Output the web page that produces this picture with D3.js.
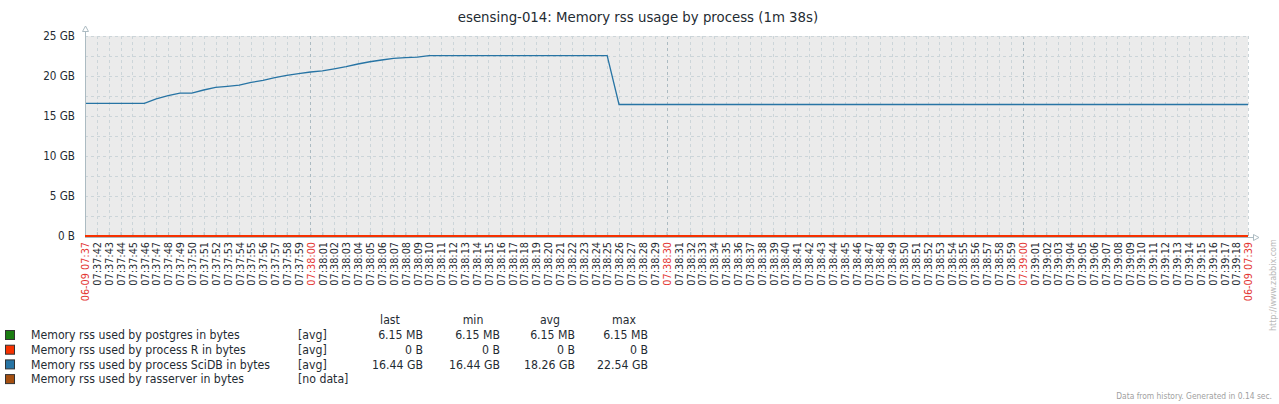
<!DOCTYPE html>
<html><head><meta charset="utf-8">
<script src="https://cdn.jsdelivr.net/npm/d3@7"></script>
<style>
body{margin:0;background:#fff;overflow:hidden;}
svg{display:block;font-family:"DejaVu Sans",sans-serif;font-stretch:condensed;}
</style></head><body>
<svg id="chart" width="1279" height="404"></svg>
<script>
const title = "esensing-014: Memory rss usage by process (1m 38s)";
const startTime = "2016-06-09T07:37:41";
const endTime = "2016-06-09T07:39:19";
// one sample per second, 07:37:41 .. 07:39:19 (GB)
const sciDbValues = [
  16.58,16.58,16.58,16.58,16.58,16.58,17.15,17.55,17.87,17.87,
  18.25,18.58,18.70,18.85,19.20,19.45,19.80,20.08,20.30,20.50,
  20.65,20.90,21.17,21.50,21.78,22.00,22.20,22.30,22.35,22.54,
  22.54,22.54,22.54,22.54,22.54,22.54,22.54,22.54,22.54,22.54,
  22.54,22.54,22.54,22.54,22.54,16.44,16.44,16.44,16.44,16.44,
  16.44,16.44,16.44,16.44,16.44,16.44,16.44,16.44,16.44,16.44,
  16.44,16.44,16.44,16.44,16.44,16.44,16.44,16.44,16.44,16.44,
  16.44,16.44,16.44,16.44,16.44,16.44,16.44,16.44,16.44,16.44,
  16.44,16.44,16.44,16.44,16.44,16.44,16.44,16.44,16.44,16.44,
  16.44,16.44,16.44,16.44,16.44,16.44,16.44,16.44,16.44
];
const postgresValues = [
  0.006,0.006,0.006,0.006,0.006,0.006,0.006,0.006,0.006,0.006,
  0.006,0.006,0.006,0.006,0.006,0.006,0.006,0.006,0.006,0.006,
  0.006,0.006,0.006,0.006,0.006,0.006,0.006,0.006,0.006,0.006,
  0.006,0.006,0.006,0.006,0.006,0.006,0.006,0.006,0.006,0.006,
  0.006,0.006,0.006,0.006,0.006,0.006,0.006,0.006,0.006,0.006,
  0.006,0.006,0.006,0.006,0.006,0.006,0.006,0.006,0.006,0.006,
  0.006,0.006,0.006,0.006,0.006,0.006,0.006,0.006,0.006,0.006,
  0.006,0.006,0.006,0.006,0.006,0.006,0.006,0.006,0.006,0.006,
  0.006,0.006,0.006,0.006,0.006,0.006,0.006,0.006,0.006,0.006,
  0.006,0.006,0.006,0.006,0.006,0.006,0.006,0.006,0.006
];
const rValues = [
  0,0,0,0,0,0,0,0,0,0, 0,0,0,0,0,0,0,0,0,0, 0,0,0,0,0,0,0,0,0,0,
  0,0,0,0,0,0,0,0,0,0, 0,0,0,0,0,0,0,0,0,0, 0,0,0,0,0,0,0,0,0,0,
  0,0,0,0,0,0,0,0,0,0, 0,0,0,0,0,0,0,0,0,0, 0,0,0,0,0,0,0,0,0,0,
  0,0,0,0,0,0,0,0,0
];
const yTickValues = [0, 5, 10, 15, 20, 25];
const yTickLabels = ["0 B", "5 GB", "10 GB", "15 GB", "20 GB", "25 GB"];
const yGridValues = [2.5, 5, 7.5, 10, 12.5, 15, 17.5, 20, 22.5, 25];
const majorTimeLabels = ["07:38:00", "07:38:30", "07:39:00"];
const edgeLabelPrefix = "06-09 ";

const seriesNames = ["Memory rss used by postgres in bytes", "Memory rss used by process R in bytes",
  "Memory rss used by process SciDB in bytes", "Memory rss used by rasserver in bytes"];
const seriesColors = ["#1a7c11", "#f63100", "#2774a4", "#a54f10"];
const seriesFuncs = ["[avg]", "[avg]", "[avg]", "[no data]"];
const lastVals = ["6.15 MB", "0 B", "16.44 GB", ""];
const minVals = ["6.15 MB", "0 B", "16.44 GB", ""];
const avgVals = ["6.15 MB", "0 B", "18.26 GB", ""];
const maxVals = ["6.15 MB", "0 B", "22.54 GB", ""];
const statHeaders = ["last", "min", "avg", "max"];
const footerText = "Data from history. Generated in 0.14 sec.";
const watermark = "http://www.zabbix.com";

const TEXT = "#1f2c33", RED = "#e33734", GRID = "#ccd5d9", MAIN = "#acbbc2";
const L = 85, R = 1248, T = 36, B = 236;
const svg = d3.select("#chart");
const parse = d3.timeParse("%Y-%m-%dT%H:%M:%S");
const t0 = parse(startTime), t1 = parse(endTime);
const times = d3.timeSecond.range(t0, d3.timeSecond.offset(t1, 1));
const x = d3.scaleTime().domain([t0, t1]).range([L, R]);
const y = d3.scaleLinear().domain([0, 25]).range([B, T]);
const fmtS = d3.timeFormat("%H:%M:%S"), fmtM = d3.timeFormat("%H:%M");

svg.append("text").attr("x", 638).attr("y", 18).attr("text-anchor", "middle")
  .attr("dominant-baseline", "middle").attr("font-size", 14.8).attr("fill", TEXT).text(title);

svg.append("rect").attr("x", L).attr("y", T).attr("width", R - L).attr("height", B - T).attr("fill", "#ebebeb");

const labelTimes = d3.timeSecond.range(d3.timeSecond.offset(t0, 1), t1);
svg.append("g").selectAll("line").data(labelTimes).join("line")
  .attr("x1", d => Math.round(x(d)) + 0.5).attr("x2", d => Math.round(x(d)) + 0.5)
  .attr("y1", T).attr("y2", B)
  .attr("stroke", d => majorTimeLabels.includes(fmtS(d)) ? MAIN : GRID)
  .attr("stroke-dasharray", "3,3");
svg.append("line").attr("x1", R + 0.5).attr("x2", R + 0.5).attr("y1", T).attr("y2", B)
  .attr("stroke", GRID).attr("stroke-dasharray", "3,3");
svg.append("g").selectAll("line").data(yGridValues).join("line")
  .attr("x1", L).attr("x2", R).attr("y1", d => Math.round(y(d)) + 0.5).attr("y2", d => Math.round(y(d)) + 0.5)
  .attr("stroke", GRID).attr("stroke-dasharray", "3,3");

// x axis ticks + labels
const allTicks = [t0, ...labelTimes, t1];
const xAxis = svg.append("g").attr("transform", `translate(0,${B})`)
  .call(d3.axisBottom(x).tickValues(allTicks).tickSize(-4)
    .tickFormat(d => (+d === +t0 || +d === +t1) ? edgeLabelPrefix + fmtM(d) : fmtS(d)));
xAxis.select(".domain").remove();
xAxis.selectAll(".tick line").attr("stroke", MAIN);
xAxis.selectAll(".tick text")
  .attr("transform", "rotate(-90)").attr("text-anchor", "end")
  .attr("x", -6).attr("y", 0).attr("dy", "0.35em")
  .attr("font-size", 10.8).attr("font-family", "DejaVu Sans")
  .attr("fill", d => (+d === +t0 || +d === +t1 || majorTimeLabels.includes(fmtS(d))) ? RED : TEXT);

// y axis labels
const yAxis = svg.append("g").attr("transform", `translate(${L},0)`)
  .call(d3.axisLeft(y).tickValues(yTickValues).tickSize(0).tickPadding(10)
    .tickFormat((d, i) => yTickLabels[i]));
yAxis.select(".domain").remove();
yAxis.selectAll("text").attr("font-size", 11.6).attr("font-family", "DejaVu Sans").attr("fill", TEXT);

// series
const line = d3.line().x((d, i) => x(times[i])).y(d => y(d));
[[postgresValues, 0, 1.2], [rValues, 1, 2], [sciDbValues, 2, 1.3]].forEach(([vals, ci, w]) => {
  svg.append("path").datum(vals).attr("d", line).attr("fill", "none")
    .attr("stroke", seriesColors[ci]).attr("stroke-width", w);
});

// axes lines with arrows
svg.append("line").attr("x1", L + 0.5).attr("x2", L + 0.5).attr("y1", B + 1).attr("y2", 31).attr("stroke", MAIN);
svg.append("path").attr("d", `M${L + 0.5},26 L${L + 3.5},31.5 L${L - 2.5},31.5 Z`).attr("fill", "#fff").attr("stroke", MAIN);
svg.append("line").attr("x1", L).attr("x2", 1253).attr("y1", B + 1.5).attr("y2", B + 1.5).attr("stroke", MAIN);
svg.append("path").attr("d", `M1259,${B + 1.5} L1253.5,${B - 1.5} L1253.5,${B + 4.5} Z`).attr("fill", "#fff").attr("stroke", MAIN);
svg.append("line").attr("x1", L).attr("x2", R).attr("y1", y(0)).attr("y2", y(0))
  .attr("stroke", seriesColors[1]).attr("stroke-width", 2);

// legend
const rowY = [335, 349.7, 364.4, 379.1];
const lg = svg.append("g").attr("font-size", 12.2).attr("fill", TEXT);
lg.selectAll("rect").data(seriesNames).join("rect")
  .attr("x", 5.5).attr("y", (d, i) => rowY[i] - 4.5).attr("width", 9).attr("height", 9)
  .attr("fill", (d, i) => seriesColors[i]).attr("stroke", "#333");
lg.selectAll("text.name").data(seriesNames).join("text").attr("class", "name")
  .attr("x", 31).attr("y", (d, i) => rowY[i]).attr("dy", "0.35em").text(d => d);
lg.selectAll("text.func").data(seriesFuncs).join("text").attr("class", "func")
  .attr("x", 298).attr("y", (d, i) => rowY[i]).attr("dy", "0.35em").text(d => d);
const colRight = [423, 500, 575, 648];
const colHead = [390, 473, 550, 624];
[lastVals, minVals, avgVals, maxVals].forEach((vals, c) => {
  lg.append("text").attr("x", colHead[c]).attr("y", 320).attr("dy", "0.35em")
    .attr("text-anchor", "middle").text(statHeaders[c]);
  lg.selectAll(null).data(vals).join("text")
    .attr("x", colRight[c]).attr("y", (d, i) => rowY[i]).attr("dy", "0.35em")
    .attr("text-anchor", "end").text(d => d);
});

svg.append("text").attr("x", 1272).attr("y", 396).attr("dy", "0.35em").attr("text-anchor", "end")
  .attr("font-size", 8.4).attr("fill", "#a0a0a0").text(footerText);
svg.append("text").attr("transform", "translate(1273,331) rotate(-90)").attr("dy", "0.35em")
  .attr("font-size", 8).attr("font-stretch", "normal").attr("fill", "#b8b8b8").text(watermark);
</script></body></html>
